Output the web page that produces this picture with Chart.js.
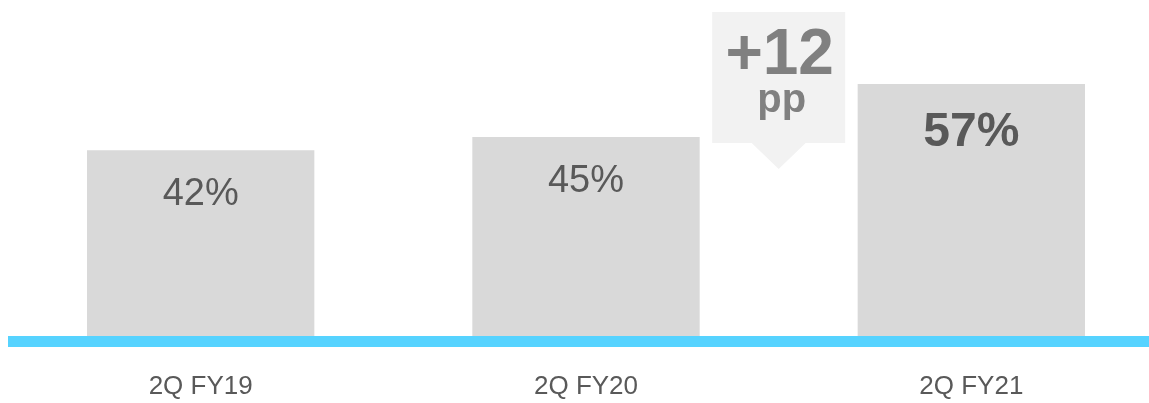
<!DOCTYPE html>
<html>
<head>
<meta charset="utf-8">
<script src="https://cdn.jsdelivr.net/npm/chart.js@4"></script>
<style>
  html, body { margin: 0; padding: 0; background: #fff; overflow: hidden; }
  #wrap { width: 1149px; height: 403px; overflow: hidden; }
  #box { width: 1164px; height: 403px; }
</style>
</head>
<body>
<div id="wrap"><div id="box"><canvas id="bars"></canvas></div></div>
<script>
var labels = ['2Q FY19', '2Q FY20', '2Q FY21'];
var values = [42, 45, 57];
var valueLabels = ['42%', '45%', '57%'];
var changeText = ['+12', 'pp'];

var grey = '#595959';

// value text inside bars + blue baseline + callout box
var extras = {
  id: 'extras',
  afterDatasetsDraw: function (chart) {
    var ctx = chart.ctx;
    var meta = chart.getDatasetMeta(0);
    var y0 = chart.scales.y.getPixelForValue(0);

    ctx.save();
    ctx.fillStyle = '#56d3ff';
    ctx.fillRect(8, y0, chart.width, 11);

    ctx.textAlign = 'center';
    ctx.textBaseline = 'middle';
    ctx.fillStyle = grey;
    meta.data.forEach(function (bar, i) {
      var last = i === meta.data.length - 1;
      ctx.font = last ? 'bold 48px "Liberation Sans", Arial' : '38px "Liberation Sans", Arial';
      ctx.fillText(valueLabels[i], bar.x, bar.y + (last ? 49 : 44));
    });

    // callout between the last two bars
    var cx = (meta.data[1].x + meta.data[2].x) / 2;
    ctx.fillStyle = '#f2f2f2';
    ctx.beginPath();
    ctx.moveTo(cx - 66.5, 12);
    ctx.lineTo(cx + 66.5, 12);
    ctx.lineTo(cx + 66.5, 143);
    ctx.lineTo(cx + 27, 143);
    ctx.lineTo(cx, 169);
    ctx.lineTo(cx - 27, 143);
    ctx.lineTo(cx - 66.5, 143);
    ctx.closePath();
    ctx.fill();

    ctx.fillStyle = '#808080';
    ctx.textBaseline = 'alphabetic';
    ctx.font = 'bold 64px "Liberation Sans", Arial';
    ctx.fillText(changeText[0], cx + 1, 74);
    ctx.font = 'bold 40px "Liberation Sans", Arial';
    ctx.fillText(changeText[1], cx + 3, 112);
    ctx.restore();
  }
};

new Chart(document.getElementById('bars'), {
  type: 'bar',
  data: {
    labels: labels,
    datasets: [{
      data: values,
      backgroundColor: '#d9d9d9',
      borderWidth: 0,
      categoryPercentage: 1,
      barPercentage: 0.59
    }]
  },
  options: {
    responsive: true,
    maintainAspectRatio: false,
    animation: false,
    layout: { padding: { left: 8, right: 0, top: 0, bottom: 0 } },
    plugins: {
      legend: { display: false },
      tooltip: { enabled: false }
    },
    scales: {
      x: {
        grid: { display: false, drawTicks: false },
        border: { display: false },
        afterFit: function (s) { s.height = 67; },
        ticks: {
          color: grey,
          padding: 35,
          font: { family: '"Liberation Sans", Arial', size: 26 }
        }
      },
      y: {
        display: false,
        min: 0,
        max: 76
      }
    }
  },
  plugins: [extras]
});
</script>
</body>
</html>
